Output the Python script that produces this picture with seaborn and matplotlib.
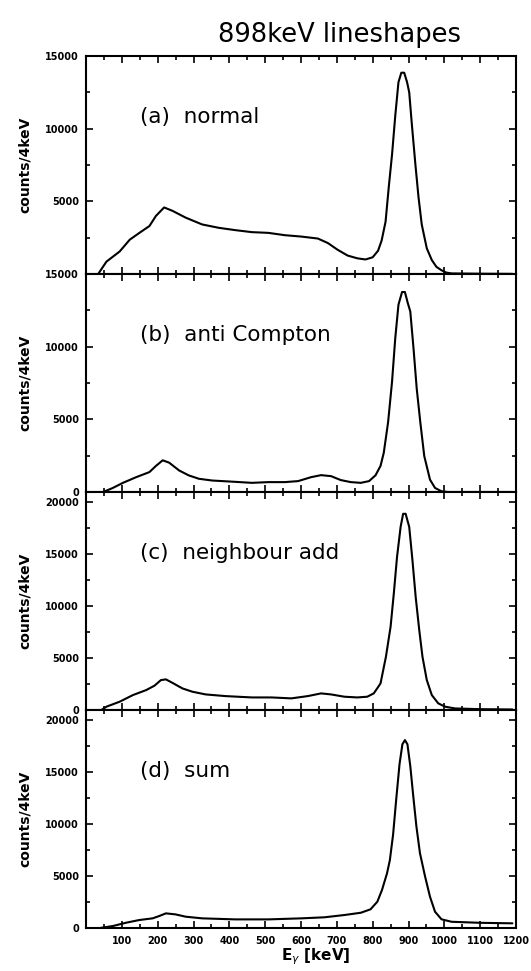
import numpy as np
import pandas as pd
import matplotlib
matplotlib.use("Agg")
import matplotlib.pyplot as plt
from matplotlib.ticker import MultipleLocator
import seaborn as sns

# ---------------- data ----------------
energy_a = [34, 57, 94, 122, 149, 177, 195, 218, 241, 278, 324, 370, 416, 463, 509, 555,
            601, 647, 675, 702, 730, 757, 780, 800, 815, 825, 836, 845, 854, 863, 872,
            880, 888, 896, 902, 909, 919, 928, 937, 951, 965, 978, 992, 1005, 1020, 1100, 1190]
counts_a = [0, 850, 1550, 2360, 2830, 3300, 3990, 4580, 4350, 3880, 3410, 3180, 3020, 2880, 2830, 2670,
            2575, 2440, 2130, 1670, 1270, 1080, 1000, 1150, 1600, 2300, 3600, 6000, 8200, 10870, 13200,
            13850, 13850, 13200, 12500, 10400, 7600, 5270, 3400, 1770, 960, 490, 260, 100, 40, 20, 10]

energy_b = [48, 75, 103, 140, 177, 195, 214, 232, 260, 287, 315, 352, 416, 463, 509, 555,
            592, 628, 656, 684, 711, 739, 767, 790, 808, 822, 831, 843, 854, 863, 872,
            882, 890, 898, 905, 914, 923, 933, 944, 960, 974, 992, 1010, 1190]
counts_b = [0, 280, 630, 1020, 1370, 1790, 2180, 2020, 1480, 1140, 910, 790, 700, 630, 680, 680,
            750, 1020, 1160, 1090, 820, 680, 630, 750, 1150, 1800, 2700, 4790, 7570, 10570, 12890,
            13760, 13760, 13000, 12420, 9880, 7100, 4790, 2470, 850, 280, 50, 0, 0]

energy_c = [43, 57, 94, 131, 168, 191, 209, 223, 241, 269, 297, 334, 389, 463, 518, 573,
            619, 656, 684, 721, 757, 785, 803, 815, 822, 837, 850, 859, 868, 878, 885,
            892, 902, 911, 920, 930, 939, 951, 965, 983, 1002, 1030, 1100, 1190]
counts_c = [0, 320, 800, 1440, 1920, 2340, 2880, 2950, 2620, 2080, 1760, 1500, 1340, 1210, 1210, 1120,
            1340, 1600, 1500, 1280, 1210, 1280, 1600, 2200, 2570, 5130, 8020, 11220, 14750, 17640, 18900,
            18900, 17640, 14430, 10900, 7700, 5130, 2890, 1440, 640, 320, 150, 80, 50]

energy_d = [39, 75, 112, 149, 186, 204, 223, 250, 278, 324, 416, 509, 601, 665, 721, 767,
            794, 813, 826, 840, 848, 857, 866, 875, 883, 890, 897, 905, 913, 922, 932,
            946, 960, 974, 992, 1020, 1100, 1190]
counts_d = [0, 190, 510, 770, 930, 1150, 1410, 1310, 1090, 930, 830, 830, 930, 1030, 1250, 1470,
            1800, 2530, 3660, 5260, 6540, 9000, 12500, 15800, 17700, 18100, 17700, 15600, 12800, 9800, 7200,
            5000, 3010, 1570, 840, 600, 500, 450]

panel_labels = ["(a)  normal", "(b)  anti Compton", "(c)  neighbour add", "(d)  sum"]
y_max = [15000, 15000, 21000, 21000]
y_ticks = [[0, 5000, 10000, 15000], [0, 5000, 10000, 15000],
           [0, 5000, 10000, 15000, 20000], [0, 5000, 10000, 15000, 20000]]
y_ticklabels = [["", "5000", "10000", "15000"], ["0", "5000", "10000", "15000"],
                ["0", "5000", "10000", "15000", "20000"], ["0", "5000", "10000", "15000", "20000"]]
x_ticks = [100, 200, 300, 400, 500, 600, 700, 800, 900, 1000, 1100, 1200]
x_ticklabels = ["100", "200", "300", "400", "500", "600", "700", "800", "900", "1000", "1100", "1200"]

title = "898keV lineshapes"
y_label = "counts/4keV"
x_label = r"E$_\gamma$ [keV]"

# ---------------- figure ----------------
sns.set_style("ticks")
plt.rcParams["font.family"] = ["DejaVu Sans"]
plt.rcParams["text.color"] = "black"
plt.rcParams["axes.labelcolor"] = "black"
plt.rcParams["xtick.color"] = "black"
plt.rcParams["ytick.color"] = "black"

fig = plt.figure(figsize=(5.31, 9.71), dpi=100)
axes = fig.subplots(4, 1, sharex=True,
                    gridspec_kw=dict(hspace=0, left=86/531, right=516/531,
                                     top=1-56/971, bottom=1-928/971))

series = [(energy_a, counts_a), (energy_b, counts_b), (energy_c, counts_c), (energy_d, counts_d)]

for i, ax in enumerate(axes):
    e, c = series[i]
    df = pd.DataFrame({"E": e, "counts": c})
    sns.lineplot(data=df, x="E", y="counts", ax=ax, color="black", linewidth=1.5,
                 errorbar=None)
    ax.set_xlim(0, 1200)
    ax.set_ylim(0, y_max[i])
    ax.set_xticks(x_ticks)
    ax.xaxis.set_minor_locator(MultipleLocator(50))
    ax.set_yticks(y_ticks[i])
    ax.set_yticklabels(y_ticklabels[i])
    ax.yaxis.set_minor_locator(MultipleLocator(2500))
    ax.tick_params(which="both", direction="in", top=True, right=True, width=1.2,
                   labelsize=7, colors="black")
    ax.tick_params(which="major", length=5)
    ax.tick_params(which="minor", length=3)
    ax.tick_params(axis="y", pad=5)
    for lab in ax.get_yticklabels():
        lab.set_fontweight("bold")
    for sp in ax.spines.values():
        sp.set_linewidth(1.5)
        sp.set_color("black")
    ax.set_ylabel(y_label, fontsize=10, fontweight="bold")
    ax.yaxis.set_label_coords(-0.125, 0.5)
    ax.text(0.125, 0.72, panel_labels[i], transform=ax.transAxes, fontsize=15.5,
            va="center", ha="left")
    if i < 3:
        ax.tick_params(axis="x", labelbottom=False)
        ax.set_xlabel("")

axb = axes[-1]
axb.set_xticklabels(x_ticklabels)
axb.tick_params(axis="x", pad=6)
for lab in axb.get_xticklabels():
    lab.set_fontweight("bold")
axb.set_xlabel(x_label, fontsize=11, fontweight="bold")
axb.xaxis.set_label_coords(0.535, -0.085)

fig.text(340/531, 1-35/971, title, fontsize=18.5, ha="center", va="center")

fig.savefig("out.png", dpi=100, facecolor="white")
